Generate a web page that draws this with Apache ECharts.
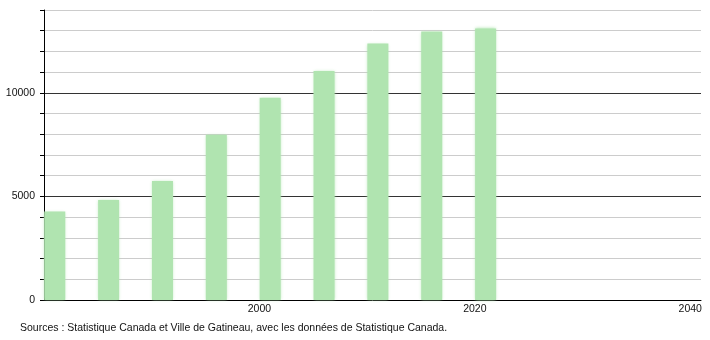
<!DOCTYPE html>
<html>
<head>
<meta charset="utf-8">
<script src="https://cdn.jsdelivr.net/npm/echarts@6/dist/echarts.min.js"></script>
<style>
html,body{margin:0;padding:0;background:#fff;}
#main{width:710px;height:340px;}
</style>
</head>
<body>
<div id="main"></div>
<script>
// Data
const years = [1981, 1986, 1991, 1996, 2001, 2006, 2011, 2016, 2021];
const population = [4270, 4830, 5750, 7980, 9760, 11060, 12380, 12960, 13110];
const xTickLabels = [2000, 2020, 2040];
const yTickLabels = [0, 5000, 10000];
const sourceText = 'Sources : Statistique Canada et Ville de Gatineau, avec les données de Statistique Canada.';

const chart = echarts.init(document.getElementById('main'), null, {renderer: 'canvas'});
const font = 'Liberation Sans, Arial, sans-serif';

chart.setOption({
  animation: false,
  backgroundColor: '#fff',
  grid: {left: 44, right: 9, top: 10, bottom: 40, containLabel: false},
  xAxis: {
    type: 'value',
    min: 1980,
    max: 2041,
    interval: 20,
    axisLine: {show: true, lineStyle: {color: '#000', width: 1}},
    axisTick: {show: false},
    splitLine: {show: false},
    axisLabel: {
      color: '#111', fontSize: 10.5, fontFamily: font, margin: 4,
      showMinLabel: true, showMaxLabel: true,
      formatter: v => xTickLabels.indexOf(v) >= 0 ? String(v) : ''
    }
  },
  yAxis: [{
    type: 'value',
    min: 0,
    max: 14000,
    interval: 1000,
    axisLine: {show: true, lineStyle: {color: '#000', width: 1}},
    axisTick: {show: true, inside: false, length: 4, lineStyle: {color: '#000'}},
    splitLine: {show: true, lineStyle: {color: '#cccccc', width: 1}},
    axisLabel: {
      color: '#111', fontSize: 10.5, fontFamily: font, margin: 9,
      formatter: v => yTickLabels.indexOf(v) >= 0 ? String(v) : ''
    }
  }, {
    type: 'value',
    position: 'left',
    min: 0,
    max: 14000,
    interval: 5000,
    axisLine: {show: false},
    axisTick: {show: false},
    axisLabel: {show: false},
    splitLine: {show: true, showMinLine: false, showMaxLine: false, lineStyle: {color: '#333333', width: 1}}
  }],
  series: [{
    type: 'bar',
    yAxisIndex: 0,
    barWidth: 21,
    data: years.map((y, i) => [y, population[i]]),
    itemStyle: {
      color: '#b0e4b0',
      shadowBlur: 3,
      shadowColor: 'rgba(176,228,176,0.9)'
    },
    clip: true
  }],
  graphic: [{
    type: 'text',
    left: 20,
    top: 323,
    style: {text: sourceText, fill: '#111', font: '10.5px ' + font}
  }]
});
</script>
</body>
</html>
